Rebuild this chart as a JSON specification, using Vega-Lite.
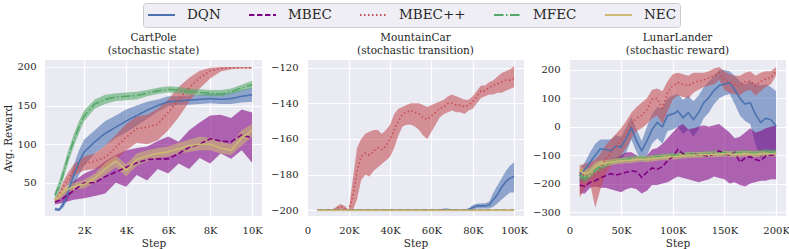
{
"$schema": "https://vega.github.io/schema/vega-lite/v6.json",
"background": "white",
"padding": {"left": 3, "top": 2, "right": 5, "bottom": 1},
"spacing": 45,
"bounds": "flush",
"data": {"values": [
{"p":"C","m":"DQN","x":600,"y":16,"lo":14,"hi":18},
{"p":"C","m":"DQN","x":800,"y":15,"lo":13,"hi":17},
{"p":"C","m":"DQN","x":1000,"y":22,"lo":18,"hi":27},
{"p":"C","m":"DQN","x":1250,"y":40,"lo":30,"hi":50},
{"p":"C","m":"DQN","x":1500,"y":60,"lo":45,"hi":73},
{"p":"C","m":"DQN","x":1750,"y":77,"lo":60,"hi":92},
{"p":"C","m":"DQN","x":2000,"y":90,"lo":72,"hi":106},
{"p":"C","m":"DQN","x":2500,"y":103,"lo":88,"hi":118},
{"p":"C","m":"DQN","x":3000,"y":114,"lo":98,"hi":130},
{"p":"C","m":"DQN","x":3500,"y":122,"lo":108,"hi":137},
{"p":"C","m":"DQN","x":4000,"y":130,"lo":115,"hi":145},
{"p":"C","m":"DQN","x":4500,"y":137,"lo":124,"hi":150},
{"p":"C","m":"DQN","x":5000,"y":144,"lo":133,"hi":155},
{"p":"C","m":"DQN","x":5500,"y":150,"lo":142,"hi":158},
{"p":"C","m":"DQN","x":6000,"y":155,"lo":149,"hi":162},
{"p":"C","m":"DQN","x":6500,"y":156,"lo":151,"hi":162},
{"p":"C","m":"DQN","x":7000,"y":157,"lo":151,"hi":163},
{"p":"C","m":"DQN","x":7500,"y":158,"lo":152,"hi":164},
{"p":"C","m":"DQN","x":8000,"y":159,"lo":153,"hi":166},
{"p":"C","m":"DQN","x":8500,"y":158,"lo":152,"hi":165},
{"p":"C","m":"DQN","x":9000,"y":159,"lo":152,"hi":167},
{"p":"C","m":"DQN","x":9500,"y":162,"lo":154,"hi":170},
{"p":"C","m":"DQN","x":10000,"y":164,"lo":155,"hi":173},
{"p":"C","m":"MBEC","x":600,"y":25,"lo":22,"hi":28},
{"p":"C","m":"MBEC","x":800,"y":27,"lo":23,"hi":32},
{"p":"C","m":"MBEC","x":1000,"y":30,"lo":24,"hi":38},
{"p":"C","m":"MBEC","x":1250,"y":35,"lo":26,"hi":45},
{"p":"C","m":"MBEC","x":1500,"y":40,"lo":28,"hi":52},
{"p":"C","m":"MBEC","x":1750,"y":45,"lo":29,"hi":57},
{"p":"C","m":"MBEC","x":2000,"y":50,"lo":30,"hi":62},
{"p":"C","m":"MBEC","x":2500,"y":50,"lo":33,"hi":68},
{"p":"C","m":"MBEC","x":3000,"y":58,"lo":36,"hi":78},
{"p":"C","m":"MBEC","x":3500,"y":64,"lo":50,"hi":86},
{"p":"C","m":"MBEC","x":4000,"y":70,"lo":45,"hi":92},
{"p":"C","m":"MBEC","x":4500,"y":76,"lo":60,"hi":95},
{"p":"C","m":"MBEC","x":5000,"y":80,"lo":53,"hi":97},
{"p":"C","m":"MBEC","x":5500,"y":81,"lo":68,"hi":104},
{"p":"C","m":"MBEC","x":6000,"y":81,"lo":62,"hi":110},
{"p":"C","m":"MBEC","x":6500,"y":88,"lo":75,"hi":103},
{"p":"C","m":"MBEC","x":7000,"y":96,"lo":68,"hi":118},
{"p":"C","m":"MBEC","x":7500,"y":100,"lo":82,"hi":128},
{"p":"C","m":"MBEC","x":8000,"y":107,"lo":75,"hi":137},
{"p":"C","m":"MBEC","x":8500,"y":104,"lo":88,"hi":138},
{"p":"C","m":"MBEC","x":9000,"y":103,"lo":81,"hi":134},
{"p":"C","m":"MBEC","x":9500,"y":112,"lo":92,"hi":145},
{"p":"C","m":"MBEC","x":10000,"y":108,"lo":76,"hi":141},
{"p":"C","m":"MBEC++","x":600,"y":28,"lo":26,"hi":30},
{"p":"C","m":"MBEC++","x":800,"y":34,"lo":30,"hi":38},
{"p":"C","m":"MBEC++","x":1000,"y":45,"lo":38,"hi":52},
{"p":"C","m":"MBEC++","x":1250,"y":56,"lo":48,"hi":64},
{"p":"C","m":"MBEC++","x":1500,"y":66,"lo":58,"hi":74},
{"p":"C","m":"MBEC++","x":1750,"y":71,"lo":63,"hi":79},
{"p":"C","m":"MBEC++","x":2000,"y":75,"lo":66,"hi":84},
{"p":"C","m":"MBEC++","x":2500,"y":78,"lo":68,"hi":88},
{"p":"C","m":"MBEC++","x":3000,"y":83,"lo":70,"hi":98},
{"p":"C","m":"MBEC++","x":3500,"y":96,"lo":80,"hi":112},
{"p":"C","m":"MBEC++","x":4000,"y":109,"lo":92,"hi":126},
{"p":"C","m":"MBEC++","x":4500,"y":120,"lo":102,"hi":136},
{"p":"C","m":"MBEC++","x":5000,"y":122,"lo":100,"hi":138},
{"p":"C","m":"MBEC++","x":5500,"y":126,"lo":105,"hi":146},
{"p":"C","m":"MBEC++","x":6000,"y":141,"lo":118,"hi":158},
{"p":"C","m":"MBEC++","x":6500,"y":158,"lo":135,"hi":174},
{"p":"C","m":"MBEC++","x":7000,"y":173,"lo":155,"hi":186},
{"p":"C","m":"MBEC++","x":7500,"y":186,"lo":172,"hi":195},
{"p":"C","m":"MBEC++","x":8000,"y":195,"lo":185,"hi":199},
{"p":"C","m":"MBEC++","x":8500,"y":198,"lo":194,"hi":200},
{"p":"C","m":"MBEC++","x":9000,"y":199,"lo":197,"hi":200},
{"p":"C","m":"MBEC++","x":9500,"y":199,"lo":198,"hi":200},
{"p":"C","m":"MBEC++","x":10000,"y":199,"lo":198,"hi":200},
{"p":"C","m":"MFEC","x":600,"y":34,"lo":28,"hi":38},
{"p":"C","m":"MFEC","x":800,"y":45,"lo":38,"hi":52},
{"p":"C","m":"MFEC","x":1000,"y":62,"lo":55,"hi":70},
{"p":"C","m":"MFEC","x":1250,"y":85,"lo":77,"hi":93},
{"p":"C","m":"MFEC","x":1500,"y":105,"lo":97,"hi":113},
{"p":"C","m":"MFEC","x":1750,"y":122,"lo":114,"hi":130},
{"p":"C","m":"MFEC","x":2000,"y":137,"lo":130,"hi":144},
{"p":"C","m":"MFEC","x":2500,"y":152,"lo":146,"hi":158},
{"p":"C","m":"MFEC","x":3000,"y":158,"lo":152,"hi":164},
{"p":"C","m":"MFEC","x":3500,"y":161,"lo":156,"hi":166},
{"p":"C","m":"MFEC","x":4000,"y":162,"lo":157,"hi":167},
{"p":"C","m":"MFEC","x":4500,"y":163,"lo":158,"hi":168},
{"p":"C","m":"MFEC","x":5000,"y":166,"lo":162,"hi":170},
{"p":"C","m":"MFEC","x":5500,"y":169,"lo":165,"hi":173},
{"p":"C","m":"MFEC","x":6000,"y":171,"lo":167,"hi":175},
{"p":"C","m":"MFEC","x":6500,"y":170,"lo":166,"hi":174},
{"p":"C","m":"MFEC","x":7000,"y":168,"lo":164,"hi":172},
{"p":"C","m":"MFEC","x":7500,"y":167,"lo":163,"hi":171},
{"p":"C","m":"MFEC","x":8000,"y":166,"lo":162,"hi":170},
{"p":"C","m":"MFEC","x":8500,"y":165,"lo":162,"hi":170},
{"p":"C","m":"MFEC","x":9000,"y":168,"lo":165,"hi":172},
{"p":"C","m":"MFEC","x":9500,"y":173,"lo":169,"hi":177},
{"p":"C","m":"MFEC","x":10000,"y":177,"lo":172,"hi":182},
{"p":"C","m":"NEC","x":600,"y":28,"lo":25,"hi":31},
{"p":"C","m":"NEC","x":800,"y":32,"lo":28,"hi":36},
{"p":"C","m":"NEC","x":1000,"y":38,"lo":33,"hi":43},
{"p":"C","m":"NEC","x":1250,"y":42,"lo":37,"hi":47},
{"p":"C","m":"NEC","x":1500,"y":45,"lo":40,"hi":50},
{"p":"C","m":"NEC","x":1750,"y":47,"lo":42,"hi":52},
{"p":"C","m":"NEC","x":2000,"y":48,"lo":43,"hi":54},
{"p":"C","m":"NEC","x":2500,"y":56,"lo":50,"hi":62},
{"p":"C","m":"NEC","x":3000,"y":68,"lo":60,"hi":76},
{"p":"C","m":"NEC","x":3500,"y":78,"lo":70,"hi":85},
{"p":"C","m":"NEC","x":4000,"y":66,"lo":58,"hi":74},
{"p":"C","m":"NEC","x":4500,"y":80,"lo":72,"hi":88},
{"p":"C","m":"NEC","x":5000,"y":85,"lo":78,"hi":92},
{"p":"C","m":"NEC","x":5500,"y":88,"lo":82,"hi":95},
{"p":"C","m":"NEC","x":6000,"y":90,"lo":84,"hi":97},
{"p":"C","m":"NEC","x":6500,"y":94,"lo":88,"hi":102},
{"p":"C","m":"NEC","x":7000,"y":98,"lo":90,"hi":106},
{"p":"C","m":"NEC","x":7500,"y":100,"lo":92,"hi":110},
{"p":"C","m":"NEC","x":8000,"y":100,"lo":92,"hi":108},
{"p":"C","m":"NEC","x":8500,"y":95,"lo":88,"hi":103},
{"p":"C","m":"NEC","x":9000,"y":92,"lo":86,"hi":100},
{"p":"C","m":"NEC","x":9500,"y":108,"lo":98,"hi":118},
{"p":"C","m":"NEC","x":10000,"y":118,"lo":110,"hi":126},
{"p":"M","m":"DQN","x":5000,"y":-200,"lo":-200,"hi":-200},
{"p":"M","m":"DQN","x":62000,"y":-200,"lo":-200,"hi":-200},
{"p":"M","m":"DQN","x":64000,"y":-200,"lo":-200,"hi":-199.5},
{"p":"M","m":"DQN","x":66000,"y":-199.6,"lo":-200,"hi":-199.2},
{"p":"M","m":"DQN","x":68000,"y":-199.6,"lo":-200,"hi":-199.2},
{"p":"M","m":"DQN","x":70000,"y":-199.8,"lo":-200,"hi":-199.5},
{"p":"M","m":"DQN","x":72000,"y":-200,"lo":-200,"hi":-200},
{"p":"M","m":"DQN","x":76000,"y":-200,"lo":-200,"hi":-200},
{"p":"M","m":"DQN","x":78000,"y":-199.5,"lo":-200,"hi":-199},
{"p":"M","m":"DQN","x":80000,"y":-198.5,"lo":-200,"hi":-197},
{"p":"M","m":"DQN","x":82000,"y":-197.5,"lo":-199,"hi":-196.3},
{"p":"M","m":"DQN","x":84000,"y":-197.5,"lo":-199,"hi":-196},
{"p":"M","m":"DQN","x":86000,"y":-197.5,"lo":-199,"hi":-196},
{"p":"M","m":"DQN","x":88000,"y":-197,"lo":-199,"hi":-195},
{"p":"M","m":"DQN","x":90000,"y":-194,"lo":-198,"hi":-190},
{"p":"M","m":"DQN","x":92000,"y":-191,"lo":-196,"hi":-186},
{"p":"M","m":"DQN","x":94000,"y":-187,"lo":-194,"hi":-182},
{"p":"M","m":"DQN","x":96000,"y":-184,"lo":-192,"hi":-178},
{"p":"M","m":"DQN","x":98000,"y":-182,"lo":-190,"hi":-175},
{"p":"M","m":"DQN","x":100000,"y":-181,"lo":-190,"hi":-173},
{"p":"M","m":"MBEC","x":5000,"y":-200,"lo":-200,"hi":-200},
{"p":"M","m":"MBEC","x":100000,"y":-200,"lo":-200,"hi":-200},
{"p":"M","m":"MBEC++","x":5000,"y":-200,"lo":-200,"hi":-200},
{"p":"M","m":"MBEC++","x":10000,"y":-200,"lo":-200,"hi":-200},
{"p":"M","m":"MBEC++","x":12000,"y":-200,"lo":-200,"hi":-200},
{"p":"M","m":"MBEC++","x":14000,"y":-199,"lo":-200,"hi":-198},
{"p":"M","m":"MBEC++","x":16000,"y":-198,"lo":-200,"hi":-196.5},
{"p":"M","m":"MBEC++","x":18000,"y":-199,"lo":-200,"hi":-197.5},
{"p":"M","m":"MBEC++","x":20000,"y":-200,"lo":-200,"hi":-200},
{"p":"M","m":"MBEC++","x":22000,"y":-192,"lo":-200,"hi":-182},
{"p":"M","m":"MBEC++","x":24000,"y":-178,"lo":-194,"hi":-165},
{"p":"M","m":"MBEC++","x":26000,"y":-170,"lo":-183,"hi":-160},
{"p":"M","m":"MBEC++","x":28000,"y":-168,"lo":-180,"hi":-157},
{"p":"M","m":"MBEC++","x":30000,"y":-169,"lo":-181,"hi":-156},
{"p":"M","m":"MBEC++","x":32000,"y":-167,"lo":-178,"hi":-155},
{"p":"M","m":"MBEC++","x":34000,"y":-165,"lo":-176,"hi":-155},
{"p":"M","m":"MBEC++","x":36000,"y":-166,"lo":-174,"hi":-157},
{"p":"M","m":"MBEC++","x":38000,"y":-164,"lo":-172,"hi":-155},
{"p":"M","m":"MBEC++","x":40000,"y":-160,"lo":-170,"hi":-152},
{"p":"M","m":"MBEC++","x":42000,"y":-155,"lo":-165,"hi":-146},
{"p":"M","m":"MBEC++","x":44000,"y":-150,"lo":-158,"hi":-143},
{"p":"M","m":"MBEC++","x":46000,"y":-146,"lo":-153,"hi":-142},
{"p":"M","m":"MBEC++","x":48000,"y":-145,"lo":-152,"hi":-141},
{"p":"M","m":"MBEC++","x":50000,"y":-144,"lo":-152,"hi":-140},
{"p":"M","m":"MBEC++","x":52000,"y":-145,"lo":-153,"hi":-140},
{"p":"M","m":"MBEC++","x":54000,"y":-146,"lo":-155,"hi":-140},
{"p":"M","m":"MBEC++","x":56000,"y":-148,"lo":-158,"hi":-141},
{"p":"M","m":"MBEC++","x":58000,"y":-149,"lo":-160,"hi":-142},
{"p":"M","m":"MBEC++","x":60000,"y":-147,"lo":-156,"hi":-141},
{"p":"M","m":"MBEC++","x":62000,"y":-145,"lo":-152,"hi":-140},
{"p":"M","m":"MBEC++","x":64000,"y":-143,"lo":-148,"hi":-139},
{"p":"M","m":"MBEC++","x":66000,"y":-142,"lo":-146,"hi":-138},
{"p":"M","m":"MBEC++","x":68000,"y":-140,"lo":-145,"hi":-136},
{"p":"M","m":"MBEC++","x":70000,"y":-140,"lo":-144,"hi":-135},
{"p":"M","m":"MBEC++","x":72000,"y":-141,"lo":-145,"hi":-136},
{"p":"M","m":"MBEC++","x":74000,"y":-141,"lo":-145,"hi":-137},
{"p":"M","m":"MBEC++","x":76000,"y":-142,"lo":-146,"hi":-138},
{"p":"M","m":"MBEC++","x":78000,"y":-141,"lo":-144,"hi":-138},
{"p":"M","m":"MBEC++","x":80000,"y":-139,"lo":-143,"hi":-136},
{"p":"M","m":"MBEC++","x":82000,"y":-136,"lo":-140,"hi":-133},
{"p":"M","m":"MBEC++","x":84000,"y":-133,"lo":-137,"hi":-130},
{"p":"M","m":"MBEC++","x":86000,"y":-133,"lo":-136,"hi":-130},
{"p":"M","m":"MBEC++","x":88000,"y":-131,"lo":-135,"hi":-128},
{"p":"M","m":"MBEC++","x":90000,"y":-130,"lo":-135,"hi":-127},
{"p":"M","m":"MBEC++","x":92000,"y":-129,"lo":-134,"hi":-125},
{"p":"M","m":"MBEC++","x":94000,"y":-128,"lo":-134,"hi":-123},
{"p":"M","m":"MBEC++","x":96000,"y":-127,"lo":-133,"hi":-122},
{"p":"M","m":"MBEC++","x":98000,"y":-127,"lo":-132,"hi":-121},
{"p":"M","m":"MBEC++","x":100000,"y":-126,"lo":-131,"hi":-119},
{"p":"M","m":"MFEC","x":5000,"y":-200,"lo":-200,"hi":-200},
{"p":"M","m":"MFEC","x":100000,"y":-200,"lo":-200,"hi":-200},
{"p":"M","m":"NEC","x":5000,"y":-200,"lo":-200.5,"hi":-199.5},
{"p":"M","m":"NEC","x":100000,"y":-200,"lo":-200.5,"hi":-199.5},
{"p":"L","m":"DQN","x":10000,"y":-172,"lo":-200,"hi":-150},
{"p":"L","m":"DQN","x":15000,"y":-150,"lo":-180,"hi":-125},
{"p":"L","m":"DQN","x":20000,"y":-125,"lo":-165,"hi":-90},
{"p":"L","m":"DQN","x":25000,"y":-100,"lo":-140,"hi":-60},
{"p":"L","m":"DQN","x":30000,"y":-78,"lo":-120,"hi":-45},
{"p":"L","m":"DQN","x":35000,"y":-80,"lo":-125,"hi":-45},
{"p":"L","m":"DQN","x":40000,"y":-85,"lo":-130,"hi":-45},
{"p":"L","m":"DQN","x":45000,"y":-68,"lo":-115,"hi":-30},
{"p":"L","m":"DQN","x":50000,"y":-72,"lo":-115,"hi":-35},
{"p":"L","m":"DQN","x":55000,"y":-40,"lo":-90,"hi":0},
{"p":"L","m":"DQN","x":60000,"y":-5,"lo":-45,"hi":35},
{"p":"L","m":"DQN","x":65000,"y":-50,"lo":-90,"hi":-10},
{"p":"L","m":"DQN","x":70000,"y":-85,"lo":-120,"hi":-50},
{"p":"L","m":"DQN","x":75000,"y":-50,"lo":-100,"hi":0},
{"p":"L","m":"DQN","x":80000,"y":-9,"lo":-60,"hi":45},
{"p":"L","m":"DQN","x":85000,"y":15,"lo":-40,"hi":70},
{"p":"L","m":"DQN","x":90000,"y":0,"lo":-60,"hi":65},
{"p":"L","m":"DQN","x":95000,"y":40,"lo":-15,"hi":100},
{"p":"L","m":"DQN","x":100000,"y":45,"lo":-10,"hi":110},
{"p":"L","m":"DQN","x":105000,"y":55,"lo":0,"hi":115},
{"p":"L","m":"DQN","x":110000,"y":32,"lo":-25,"hi":95},
{"p":"L","m":"DQN","x":115000,"y":50,"lo":-10,"hi":110},
{"p":"L","m":"DQN","x":120000,"y":25,"lo":-35,"hi":90},
{"p":"L","m":"DQN","x":125000,"y":50,"lo":-10,"hi":110},
{"p":"L","m":"DQN","x":130000,"y":85,"lo":30,"hi":140},
{"p":"L","m":"DQN","x":135000,"y":103,"lo":50,"hi":160},
{"p":"L","m":"DQN","x":140000,"y":128,"lo":80,"hi":180},
{"p":"L","m":"DQN","x":145000,"y":145,"lo":100,"hi":200},
{"p":"L","m":"DQN","x":150000,"y":150,"lo":110,"hi":200},
{"p":"L","m":"DQN","x":155000,"y":155,"lo":115,"hi":195},
{"p":"L","m":"DQN","x":160000,"y":130,"lo":80,"hi":180},
{"p":"L","m":"DQN","x":165000,"y":100,"lo":40,"hi":160},
{"p":"L","m":"DQN","x":170000,"y":80,"lo":20,"hi":150},
{"p":"L","m":"DQN","x":175000,"y":85,"lo":10,"hi":160},
{"p":"L","m":"DQN","x":180000,"y":44,"lo":-60,"hi":150},
{"p":"L","m":"DQN","x":185000,"y":15,"lo":-110,"hi":145},
{"p":"L","m":"DQN","x":190000,"y":30,"lo":-100,"hi":150},
{"p":"L","m":"DQN","x":195000,"y":25,"lo":-95,"hi":140},
{"p":"L","m":"DQN","x":200000,"y":3,"lo":-100,"hi":125},
{"p":"L","m":"MBEC","x":10000,"y":-205,"lo":-235,"hi":-180},
{"p":"L","m":"MBEC","x":15000,"y":-210,"lo":-235,"hi":-180},
{"p":"L","m":"MBEC","x":20000,"y":-195,"lo":-215,"hi":-165},
{"p":"L","m":"MBEC","x":25000,"y":-190,"lo":-210,"hi":-160},
{"p":"L","m":"MBEC","x":30000,"y":-180,"lo":-215,"hi":-145},
{"p":"L","m":"MBEC","x":35000,"y":-172,"lo":-215,"hi":-130},
{"p":"L","m":"MBEC","x":40000,"y":-165,"lo":-220,"hi":-115},
{"p":"L","m":"MBEC","x":45000,"y":-170,"lo":-225,"hi":-110},
{"p":"L","m":"MBEC","x":50000,"y":-165,"lo":-230,"hi":-100},
{"p":"L","m":"MBEC","x":55000,"y":-160,"lo":-220,"hi":-90},
{"p":"L","m":"MBEC","x":60000,"y":-155,"lo":-215,"hi":-90},
{"p":"L","m":"MBEC","x":65000,"y":-158,"lo":-220,"hi":-100},
{"p":"L","m":"MBEC","x":70000,"y":-178,"lo":-235,"hi":-115},
{"p":"L","m":"MBEC","x":75000,"y":-160,"lo":-225,"hi":-100},
{"p":"L","m":"MBEC","x":80000,"y":-145,"lo":-205,"hi":-80},
{"p":"L","m":"MBEC","x":85000,"y":-150,"lo":-205,"hi":-75},
{"p":"L","m":"MBEC","x":90000,"y":-140,"lo":-200,"hi":-60},
{"p":"L","m":"MBEC","x":95000,"y":-120,"lo":-195,"hi":-40},
{"p":"L","m":"MBEC","x":100000,"y":-105,"lo":-185,"hi":-20},
{"p":"L","m":"MBEC","x":105000,"y":-80,"lo":-175,"hi":0},
{"p":"L","m":"MBEC","x":110000,"y":-95,"lo":-180,"hi":10},
{"p":"L","m":"MBEC","x":115000,"y":-100,"lo":-185,"hi":-10},
{"p":"L","m":"MBEC","x":120000,"y":-95,"lo":-190,"hi":-5},
{"p":"L","m":"MBEC","x":125000,"y":-100,"lo":-195,"hi":0},
{"p":"L","m":"MBEC","x":130000,"y":-100,"lo":-190,"hi":5},
{"p":"L","m":"MBEC","x":135000,"y":-105,"lo":-185,"hi":0},
{"p":"L","m":"MBEC","x":140000,"y":-95,"lo":-175,"hi":5},
{"p":"L","m":"MBEC","x":145000,"y":-85,"lo":-180,"hi":10},
{"p":"L","m":"MBEC","x":150000,"y":-95,"lo":-185,"hi":-5},
{"p":"L","m":"MBEC","x":155000,"y":-100,"lo":-200,"hi":-20},
{"p":"L","m":"MBEC","x":160000,"y":-90,"lo":-195,"hi":-40},
{"p":"L","m":"MBEC","x":165000,"y":-125,"lo":-205,"hi":-35},
{"p":"L","m":"MBEC","x":170000,"y":-110,"lo":-210,"hi":-20},
{"p":"L","m":"MBEC","x":175000,"y":-105,"lo":-200,"hi":-5},
{"p":"L","m":"MBEC","x":180000,"y":-115,"lo":-195,"hi":-20},
{"p":"L","m":"MBEC","x":185000,"y":-120,"lo":-190,"hi":-15},
{"p":"L","m":"MBEC","x":190000,"y":-103,"lo":-190,"hi":-5},
{"p":"L","m":"MBEC","x":195000,"y":-100,"lo":-185,"hi":0},
{"p":"L","m":"MBEC","x":200000,"y":-97,"lo":-185,"hi":5},
{"p":"L","m":"MBEC++","x":10000,"y":-160,"lo":-250,"hi":-135},
{"p":"L","m":"MBEC++","x":15000,"y":-175,"lo":-215,"hi":-130},
{"p":"L","m":"MBEC++","x":20000,"y":-165,"lo":-200,"hi":-125},
{"p":"L","m":"MBEC++","x":25000,"y":-165,"lo":-285,"hi":-115},
{"p":"L","m":"MBEC++","x":30000,"y":-145,"lo":-220,"hi":-95},
{"p":"L","m":"MBEC++","x":35000,"y":-115,"lo":-165,"hi":-65},
{"p":"L","m":"MBEC++","x":40000,"y":-90,"lo":-140,"hi":-45},
{"p":"L","m":"MBEC++","x":45000,"y":-70,"lo":-120,"hi":-25},
{"p":"L","m":"MBEC++","x":50000,"y":-50,"lo":-100,"hi":-5},
{"p":"L","m":"MBEC++","x":55000,"y":-25,"lo":-75,"hi":20},
{"p":"L","m":"MBEC++","x":60000,"y":10,"lo":-40,"hi":50},
{"p":"L","m":"MBEC++","x":65000,"y":30,"lo":-15,"hi":70},
{"p":"L","m":"MBEC++","x":70000,"y":40,"lo":-5,"hi":85},
{"p":"L","m":"MBEC++","x":75000,"y":60,"lo":10,"hi":100},
{"p":"L","m":"MBEC++","x":80000,"y":97,"lo":30,"hi":130},
{"p":"L","m":"MBEC++","x":85000,"y":100,"lo":40,"hi":135},
{"p":"L","m":"MBEC++","x":90000,"y":65,"lo":10,"hi":125},
{"p":"L","m":"MBEC++","x":95000,"y":120,"lo":55,"hi":160},
{"p":"L","m":"MBEC++","x":100000,"y":145,"lo":95,"hi":185},
{"p":"L","m":"MBEC++","x":105000,"y":155,"lo":110,"hi":190},
{"p":"L","m":"MBEC++","x":110000,"y":150,"lo":105,"hi":185},
{"p":"L","m":"MBEC++","x":115000,"y":144,"lo":100,"hi":180},
{"p":"L","m":"MBEC++","x":120000,"y":155,"lo":120,"hi":190},
{"p":"L","m":"MBEC++","x":125000,"y":161,"lo":130,"hi":190},
{"p":"L","m":"MBEC++","x":130000,"y":165,"lo":140,"hi":190},
{"p":"L","m":"MBEC++","x":135000,"y":173,"lo":145,"hi":195},
{"p":"L","m":"MBEC++","x":140000,"y":180,"lo":150,"hi":205},
{"p":"L","m":"MBEC++","x":145000,"y":190,"lo":165,"hi":210},
{"p":"L","m":"MBEC++","x":150000,"y":165,"lo":130,"hi":195},
{"p":"L","m":"MBEC++","x":155000,"y":155,"lo":120,"hi":185},
{"p":"L","m":"MBEC++","x":160000,"y":148,"lo":115,"hi":180},
{"p":"L","m":"MBEC++","x":165000,"y":144,"lo":110,"hi":180},
{"p":"L","m":"MBEC++","x":170000,"y":158,"lo":125,"hi":190},
{"p":"L","m":"MBEC++","x":175000,"y":160,"lo":130,"hi":195},
{"p":"L","m":"MBEC++","x":180000,"y":144,"lo":110,"hi":180},
{"p":"L","m":"MBEC++","x":185000,"y":160,"lo":125,"hi":190},
{"p":"L","m":"MBEC++","x":190000,"y":168,"lo":140,"hi":195},
{"p":"L","m":"MBEC++","x":195000,"y":173,"lo":150,"hi":195},
{"p":"L","m":"MBEC++","x":200000,"y":196,"lo":180,"hi":210},
{"p":"L","m":"MFEC","x":10000,"y":-170,"lo":-185,"hi":-155},
{"p":"L","m":"MFEC","x":15000,"y":-180,"lo":-195,"hi":-165},
{"p":"L","m":"MFEC","x":20000,"y":-165,"lo":-180,"hi":-150},
{"p":"L","m":"MFEC","x":25000,"y":-150,"lo":-165,"hi":-135},
{"p":"L","m":"MFEC","x":30000,"y":-140,"lo":-155,"hi":-125},
{"p":"L","m":"MFEC","x":35000,"y":-135,"lo":-144,"hi":-126},
{"p":"L","m":"MFEC","x":40000,"y":-125,"lo":-134,"hi":-116},
{"p":"L","m":"MFEC","x":45000,"y":-120,"lo":-129,"hi":-111},
{"p":"L","m":"MFEC","x":50000,"y":-118,"lo":-127,"hi":-109},
{"p":"L","m":"MFEC","x":55000,"y":-115,"lo":-124,"hi":-106},
{"p":"L","m":"MFEC","x":60000,"y":-112,"lo":-121,"hi":-103},
{"p":"L","m":"MFEC","x":65000,"y":-110,"lo":-119,"hi":-101},
{"p":"L","m":"MFEC","x":70000,"y":-110,"lo":-119,"hi":-101},
{"p":"L","m":"MFEC","x":75000,"y":-112,"lo":-121,"hi":-103},
{"p":"L","m":"MFEC","x":80000,"y":-108,"lo":-117,"hi":-99},
{"p":"L","m":"MFEC","x":85000,"y":-106,"lo":-115,"hi":-97},
{"p":"L","m":"MFEC","x":90000,"y":-104,"lo":-113,"hi":-95},
{"p":"L","m":"MFEC","x":95000,"y":-103,"lo":-112,"hi":-94},
{"p":"L","m":"MFEC","x":100000,"y":-100,"lo":-109,"hi":-91},
{"p":"L","m":"MFEC","x":105000,"y":-100,"lo":-109,"hi":-91},
{"p":"L","m":"MFEC","x":110000,"y":-98,"lo":-107,"hi":-89},
{"p":"L","m":"MFEC","x":115000,"y":-98,"lo":-107,"hi":-89},
{"p":"L","m":"MFEC","x":120000,"y":-96,"lo":-105,"hi":-87},
{"p":"L","m":"MFEC","x":125000,"y":-97,"lo":-106,"hi":-88},
{"p":"L","m":"MFEC","x":130000,"y":-95,"lo":-104,"hi":-86},
{"p":"L","m":"MFEC","x":135000,"y":-94,"lo":-103,"hi":-85},
{"p":"L","m":"MFEC","x":140000,"y":-92,"lo":-101,"hi":-83},
{"p":"L","m":"MFEC","x":145000,"y":-93,"lo":-102,"hi":-84},
{"p":"L","m":"MFEC","x":150000,"y":-92,"lo":-101,"hi":-83},
{"p":"L","m":"MFEC","x":155000,"y":-94,"lo":-103,"hi":-85},
{"p":"L","m":"MFEC","x":160000,"y":-93,"lo":-102,"hi":-84},
{"p":"L","m":"MFEC","x":165000,"y":-92,"lo":-101,"hi":-83},
{"p":"L","m":"MFEC","x":170000,"y":-90,"lo":-99,"hi":-81},
{"p":"L","m":"MFEC","x":175000,"y":-92,"lo":-101,"hi":-83},
{"p":"L","m":"MFEC","x":180000,"y":-93,"lo":-102,"hi":-84},
{"p":"L","m":"MFEC","x":185000,"y":-90,"lo":-99,"hi":-81},
{"p":"L","m":"MFEC","x":190000,"y":-88,"lo":-97,"hi":-79},
{"p":"L","m":"MFEC","x":195000,"y":-90,"lo":-99,"hi":-81},
{"p":"L","m":"MFEC","x":200000,"y":-88,"lo":-97,"hi":-79},
{"p":"L","m":"NEC","x":10000,"y":-155,"lo":-170,"hi":-140},
{"p":"L","m":"NEC","x":15000,"y":-165,"lo":-180,"hi":-150},
{"p":"L","m":"NEC","x":20000,"y":-160,"lo":-175,"hi":-145},
{"p":"L","m":"NEC","x":25000,"y":-140,"lo":-155,"hi":-125},
{"p":"L","m":"NEC","x":30000,"y":-130,"lo":-142,"hi":-118},
{"p":"L","m":"NEC","x":35000,"y":-128,"lo":-138,"hi":-118},
{"p":"L","m":"NEC","x":40000,"y":-125,"lo":-135,"hi":-115},
{"p":"L","m":"NEC","x":45000,"y":-122,"lo":-132,"hi":-112},
{"p":"L","m":"NEC","x":50000,"y":-120,"lo":-130,"hi":-110},
{"p":"L","m":"NEC","x":55000,"y":-118,"lo":-128,"hi":-108},
{"p":"L","m":"NEC","x":60000,"y":-118,"lo":-128,"hi":-108},
{"p":"L","m":"NEC","x":65000,"y":-115,"lo":-125,"hi":-105},
{"p":"L","m":"NEC","x":70000,"y":-113,"lo":-123,"hi":-103},
{"p":"L","m":"NEC","x":75000,"y":-115,"lo":-125,"hi":-105},
{"p":"L","m":"NEC","x":80000,"y":-112,"lo":-122,"hi":-102},
{"p":"L","m":"NEC","x":85000,"y":-110,"lo":-120,"hi":-100},
{"p":"L","m":"NEC","x":90000,"y":-108,"lo":-118,"hi":-98},
{"p":"L","m":"NEC","x":95000,"y":-107,"lo":-117,"hi":-97},
{"p":"L","m":"NEC","x":100000,"y":-105,"lo":-115,"hi":-95},
{"p":"L","m":"NEC","x":105000,"y":-104,"lo":-114,"hi":-94},
{"p":"L","m":"NEC","x":110000,"y":-102,"lo":-112,"hi":-92},
{"p":"L","m":"NEC","x":115000,"y":-100,"lo":-110,"hi":-90},
{"p":"L","m":"NEC","x":120000,"y":-100,"lo":-110,"hi":-90},
{"p":"L","m":"NEC","x":125000,"y":-99,"lo":-109,"hi":-89},
{"p":"L","m":"NEC","x":130000,"y":-98,"lo":-108,"hi":-88},
{"p":"L","m":"NEC","x":135000,"y":-98,"lo":-108,"hi":-88},
{"p":"L","m":"NEC","x":140000,"y":-97,"lo":-107,"hi":-87},
{"p":"L","m":"NEC","x":145000,"y":-96,"lo":-106,"hi":-86},
{"p":"L","m":"NEC","x":150000,"y":-95,"lo":-105,"hi":-85},
{"p":"L","m":"NEC","x":155000,"y":-96,"lo":-106,"hi":-86},
{"p":"L","m":"NEC","x":160000,"y":-97,"lo":-107,"hi":-87},
{"p":"L","m":"NEC","x":165000,"y":-96,"lo":-106,"hi":-86},
{"p":"L","m":"NEC","x":170000,"y":-95,"lo":-105,"hi":-85},
{"p":"L","m":"NEC","x":175000,"y":-96,"lo":-106,"hi":-86},
{"p":"L","m":"NEC","x":180000,"y":-97,"lo":-107,"hi":-87},
{"p":"L","m":"NEC","x":185000,"y":-95,"lo":-105,"hi":-85},
{"p":"L","m":"NEC","x":190000,"y":-94,"lo":-104,"hi":-84},
{"p":"L","m":"NEC","x":195000,"y":-95,"lo":-105,"hi":-85},
{"p":"L","m":"NEC","x":200000,"y":-95,"lo":-105,"hi":-85}
]},
"hconcat": [
{
 "title": {"text": ["CartPole", "(stochastic state)"]},
 "width": 217, "height": 156,
 "transform": [{"filter": "datum.p == 'C'"}],
 "encoding": {"x": {"field": "x", "type": "quantitative", "scale": {"domain": [130, 10470], "nice": false, "zero": false}, "axis": {"title": "Step", "values": [2000, 4000, 6000, 8000, 10000], "labelExpr": "datum.value < 10 ? '0' : (datum.value / 1000) + 'K'"}},
   "y": {"type": "quantitative", "scale": {"domain": [7, 209], "nice": false, "zero": false}, "axis": {"title": "Avg. Reward", "values": [50, 100, 150, 200]}},
   "color": {"field": "m", "type": "nominal", "title": null, "scale": {"domain": ["DQN", "MBEC", "MBEC++", "MFEC", "NEC"], "range": ["#4C72B0", "#800080", "#C44E52", "#55A868", "#CCB974"]}}},
 "layer": [
  {"mark": {"type": "area", "opacity": 0.58}, "encoding": {"y": {"field": "lo"}, "y2": {"field": "hi"}}},
  {"mark": {"type": "line", "strokeWidth": 1.6}, "encoding": {
    "y": {"field": "y"},
    "strokeDash": {"field": "m", "type": "nominal", "title": null, "scale": {"domain": ["DQN", "MBEC", "MBEC++", "MFEC", "NEC"], "range": [[1, 0], [5.5, 2.5], [1.5, 2.5], [9.5, 2.5, 1.5, 2.5], [1, 0]]}}}}
 ]
},
{
 "title": {"text": ["MountainCar", "(stochastic transition)"]},
 "width": 217, "height": 156,
 "transform": [{"filter": "datum.p == 'M'"}],
 "encoding": {"x": {"field": "x", "type": "quantitative", "scale": {"domain": [-200, 104800], "nice": false, "zero": false}, "axis": {"title": "Step", "values": [1, 20000, 40000, 60000, 80000, 100000], "labelExpr": "datum.value < 10 ? '0' : (datum.value / 1000) + 'K'", "labelFlush": false, "labelBound": false, "labelOverlap": false, "labelAlign": "center"}},
   "y": {"type": "quantitative", "scale": {"domain": [-203.2, -115.7], "nice": false, "zero": false}, "axis": {"title": null, "values": [-200, -180, -160, -140, -120]}},
   "color": {"field": "m", "type": "nominal", "title": null}},
 "layer": [
  {"mark": {"type": "area", "opacity": 0.58}, "encoding": {"y": {"field": "lo"}, "y2": {"field": "hi"}}},
  {"mark": {"type": "line", "strokeWidth": 1.6}, "encoding": {"y": {"field": "y"}, "strokeDash": {"field": "m", "type": "nominal", "title": null}}}
 ]
},
{
 "title": {"text": ["LunarLander", "(stochastic reward)"]},
 "width": 217, "height": 156,
 "transform": [{"filter": "datum.p == 'L'"}],
 "encoding": {"x": {"field": "x", "type": "quantitative", "scale": {"domain": [-400, 209600], "nice": false, "zero": false}, "axis": {"title": "Step", "values": [1, 50000, 100000, 150000, 200000], "labelExpr": "datum.value < 10 ? '0' : (datum.value / 1000) + 'K'", "labelFlush": false, "labelBound": false, "labelOverlap": false, "labelAlign": "center"}},
   "y": {"type": "quantitative", "scale": {"domain": [-314, 235], "nice": false, "zero": false}, "axis": {"title": null, "values": [-300, -200, -100, 0, 100, 200]}},
   "color": {"field": "m", "type": "nominal", "title": null}},
 "layer": [
  {"mark": {"type": "area", "opacity": 0.58}, "encoding": {"y": {"field": "lo"}, "y2": {"field": "hi"}}},
  {"mark": {"type": "line", "strokeWidth": 1.6}, "encoding": {"y": {"field": "y"}, "strokeDash": {"field": "m", "type": "nominal", "title": null}}}
 ]
}
],
"resolve": {"scale": {"color": "shared", "strokeDash": "shared"}},
"config": {
 "font": "DejaVu Serif",
 "view": {"stroke": null, "fill": "#EAEAF2"},
 "axis": {"domain": false, "ticks": false, "tickSize": 0, "grid": true, "gridColor": "#FFFFFF", "gridWidth": 1.2, "labelFont": "DejaVu Serif", "labelFontSize": 10, "labelColor": "#262626", "labelPadding": 9, "labelOverlap": false, "labelFlush": false, "titleFont": "DejaVu Serif", "titleFontSize": 10.5, "titleFontWeight": "normal", "titleColor": "#262626", "titlePadding": 3},
 "title": {"font": "DejaVu Serif", "fontSize": 10.5, "fontWeight": "normal", "color": "#262626", "offset": 4, "lineHeight": 12.5, "anchor": "middle"},
 "legend": {"orient": "none", "legendX": 98, "legendY": -57, "direction": "horizontal", "columns": 5, "symbolType": "stroke", "symbolSize": 729, "symbolStrokeWidth": 2, "symbolOpacity": 1, "clipHeight": 16, "labelFont": "DejaVu Serif", "labelFontSize": 13.5, "labelColor": "#262626", "labelOffset": 11, "columnPadding": 27, "padding": 4, "fillColor": "#EEEEF4", "strokeColor": "#CCCCCC", "cornerRadius": 3}
}
}
